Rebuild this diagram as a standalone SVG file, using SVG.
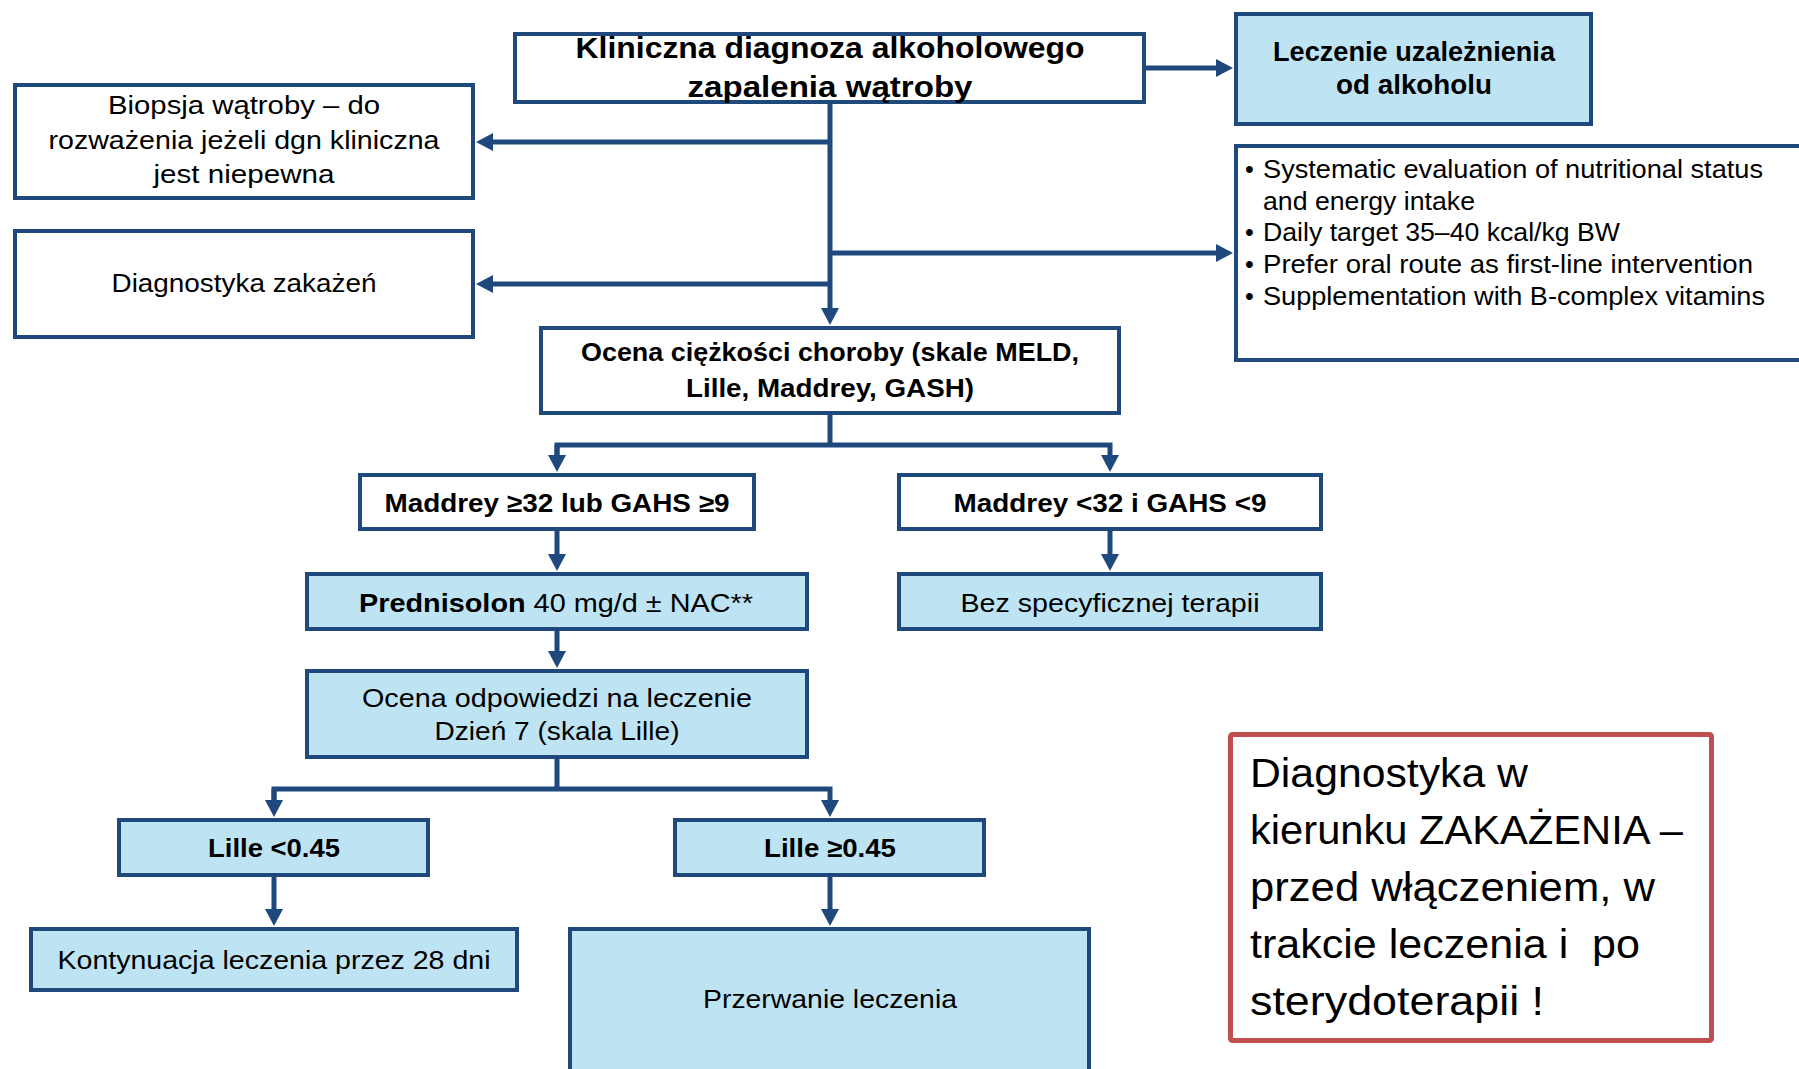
<svg xmlns="http://www.w3.org/2000/svg" width="1799" height="1069" viewBox="0 0 1799 1069">
<style>
.box{fill:#FFFFFF;stroke:#1F497D;stroke-width:4}
.fill{fill:#BEE4F4;stroke:#1F497D;stroke-width:4}
.red{fill:#FFFFFF;stroke:#C0504D;stroke-width:5}
.con{fill:none;stroke:#1F497D;stroke-width:5}
text{font-family:"Liberation Sans",Arial,sans-serif;fill:#000000}
.c{text-anchor:middle}
.b{font-weight:bold}
</style>
<defs>
<marker id="ah" markerUnits="userSpaceOnUse" markerWidth="18" markerHeight="18" refX="7" refY="9" orient="auto">
<path d="M0,0 L17,9 L0,18 Z" fill="#1F497D"/>
</marker>
</defs>
<g id="connectors">
<path class="con" d="M1146,68 H1223" marker-end="url(#ah)"/>
<path class="con" d="M830,104 V315" marker-end="url(#ah)"/>
<path class="con" d="M830,142 H486" marker-end="url(#ah)"/>
<path class="con" d="M830,284 H486" marker-end="url(#ah)"/>
<path class="con" d="M830,253 H1223" marker-end="url(#ah)"/>
<path class="con" d="M830,415 V445"/>
<path class="con" d="M557,462 V445 H1110 V462" marker-end="url(#ah)"/>
<path class="con" d="M557,445 V462" marker-end="url(#ah)"/>
<path class="con" d="M557,531 V561" marker-end="url(#ah)"/>
<path class="con" d="M1110,531 V561" marker-end="url(#ah)"/>
<path class="con" d="M557,631 V658" marker-end="url(#ah)"/>
<path class="con" d="M557,759 V789"/>
<path class="con" d="M274,807 V789 H830 V807" marker-end="url(#ah)"/>
<path class="con" d="M274,789 V807" marker-end="url(#ah)"/>
<path class="con" d="M274,877 V916" marker-end="url(#ah)"/>
<path class="con" d="M830,877 V916" marker-end="url(#ah)"/>
</g>
<g id="n-kliniczna">
<rect class="box" x="515" y="34" width="629" height="68"/>
<text class="c b" x="830" y="58" font-size="30" textLength="509" lengthAdjust="spacingAndGlyphs">Kliniczna diagnoza alkoholowego</text>
<text class="c b" x="830" y="97" font-size="30" textLength="285" lengthAdjust="spacingAndGlyphs">zapalenia wątroby</text>
</g>
<g id="n-leczenie">
<rect class="fill" x="1236" y="14" width="355" height="110"/>
<text class="c b" x="1414" y="61" font-size="27" textLength="282" lengthAdjust="spacingAndGlyphs">Leczenie uzależnienia</text>
<text class="c b" x="1414" y="94" font-size="27" textLength="156" lengthAdjust="spacingAndGlyphs">od alkoholu</text>
</g>
<g id="n-biopsja">
<rect class="box" x="15" y="85" width="458" height="113"/>
<text class="c" x="244" y="114" font-size="26" textLength="272" lengthAdjust="spacingAndGlyphs">Biopsja wątroby – do</text>
<text class="c" x="244" y="148.5" font-size="26" textLength="391" lengthAdjust="spacingAndGlyphs">rozważenia jeżeli dgn kliniczna</text>
<text class="c" x="244" y="183" font-size="26" textLength="181" lengthAdjust="spacingAndGlyphs">jest niepewna</text>
</g>
<g id="n-diagnostyka">
<rect class="box" x="15" y="231" width="458" height="106"/>
<text class="c" x="244" y="292" font-size="26" textLength="265" lengthAdjust="spacingAndGlyphs">Diagnostyka zakażeń</text>
</g>
<g id="n-nutrition">
<rect class="box" x="1236" y="146" width="620" height="214"/>
<text x="1245" y="178" font-size="25">•</text>
<text x="1263" y="178" font-size="25" textLength="500" lengthAdjust="spacingAndGlyphs">Systematic evaluation of nutritional status</text>
<text x="1263" y="210" font-size="25" textLength="212" lengthAdjust="spacingAndGlyphs">and energy intake</text>
<text x="1245" y="241" font-size="25">•</text>
<text x="1263" y="241" font-size="25" textLength="357" lengthAdjust="spacingAndGlyphs">Daily target 35–40 kcal/kg BW</text>
<text x="1245" y="273" font-size="25">•</text>
<text x="1263" y="273" font-size="25" textLength="490" lengthAdjust="spacingAndGlyphs">Prefer oral route as first-line intervention</text>
<text x="1245" y="305" font-size="25">•</text>
<text x="1263" y="305" font-size="25" textLength="502" lengthAdjust="spacingAndGlyphs">Supplementation with B-complex vitamins</text>
</g>
<g id="n-ocena">
<rect class="box" x="541" y="328" width="578" height="85"/>
<text class="c b" x="830" y="361" font-size="26" textLength="498" lengthAdjust="spacingAndGlyphs">Ocena ciężkości choroby (skale MELD,</text>
<text class="c b" x="830" y="397" font-size="26" textLength="288" lengthAdjust="spacingAndGlyphs">Lille, Maddrey, GASH)</text>
</g>
<g id="n-maddrey-high">
<rect class="box" x="360" y="475" width="394" height="54"/>
<text class="c b" x="557" y="512" font-size="26" textLength="345" lengthAdjust="spacingAndGlyphs">Maddrey ≥32 lub GAHS ≥9</text>
</g>
<g id="n-maddrey-low">
<rect class="box" x="899" y="475" width="422" height="54"/>
<text class="c b" x="1110" y="512" font-size="26" textLength="313" lengthAdjust="spacingAndGlyphs">Maddrey &lt;32 i GAHS &lt;9</text>
</g>
<g id="n-prednisolon">
<rect class="fill" x="307" y="574" width="500" height="55"/>
<text x="359" y="612" font-size="26" textLength="394" lengthAdjust="spacingAndGlyphs"><tspan class="b">Prednisolon</tspan> 40 mg/d ± NAC**</text>
</g>
<g id="n-bez">
<rect class="fill" x="899" y="574" width="422" height="55"/>
<text class="c" x="1110" y="612" font-size="26" textLength="299" lengthAdjust="spacingAndGlyphs">Bez specyficznej terapii</text>
</g>
<g id="n-odpowiedz">
<rect class="fill" x="307" y="671" width="500" height="86"/>
<text class="c" x="557" y="707" font-size="26" textLength="390" lengthAdjust="spacingAndGlyphs">Ocena odpowiedzi na leczenie</text>
<text class="c" x="557" y="740" font-size="26" textLength="245" lengthAdjust="spacingAndGlyphs">Dzień 7 (skala Lille)</text>
</g>
<g id="n-lille-low">
<rect class="fill" x="119" y="820" width="309" height="55"/>
<text class="c b" x="274" y="857" font-size="26" textLength="132" lengthAdjust="spacingAndGlyphs">Lille &lt;0.45</text>
</g>
<g id="n-lille-high">
<rect class="fill" x="675" y="820" width="309" height="55"/>
<text class="c b" x="830" y="857" font-size="26" textLength="132" lengthAdjust="spacingAndGlyphs">Lille ≥0.45</text>
</g>
<g id="n-kontynuacja">
<rect class="fill" x="31" y="929" width="486" height="61"/>
<text class="c" x="274" y="969" font-size="26" textLength="433" lengthAdjust="spacingAndGlyphs">Kontynuacja leczenia przez 28 dni</text>
</g>
<g id="n-przerwanie">
<rect class="fill" x="570" y="929" width="519" height="200"/>
<text class="c" x="830" y="1008" font-size="26" textLength="254" lengthAdjust="spacingAndGlyphs">Przerwanie leczenia</text>
</g>
<g id="n-zakazenie">
<rect class="red" x="1230.5" y="734.5" width="481" height="306" rx="2"/>
<text x="1250" y="787" font-size="40" textLength="278" lengthAdjust="spacingAndGlyphs">Diagnostyka w</text>
<text x="1250" y="844" font-size="40" textLength="433" lengthAdjust="spacingAndGlyphs">kierunku ZAKAŻENIA –</text>
<text x="1250" y="901" font-size="40" textLength="405" lengthAdjust="spacingAndGlyphs">przed włączeniem, w</text>
<text x="1250" y="958" font-size="40" textLength="390" lengthAdjust="spacingAndGlyphs" xml:space="preserve">trakcie leczenia i  po</text>
<text x="1250" y="1015" font-size="40" textLength="294" lengthAdjust="spacingAndGlyphs">sterydoterapii !</text>
</g>
</svg>
